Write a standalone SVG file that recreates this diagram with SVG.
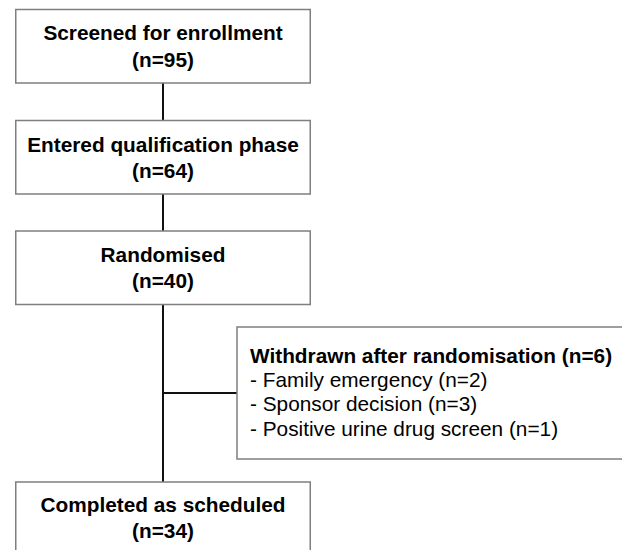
<svg xmlns="http://www.w3.org/2000/svg" width="622" height="550" viewBox="0 0 622 550">
<style>
.box{fill:#fff;stroke:#7f7f7f;stroke-width:1.5}
.c{stroke:#111;stroke-width:2;fill:none}
.t{font-family:"Liberation Sans",Arial,sans-serif;font-size:20.8px;fill:#000}
.b{font-weight:bold;text-anchor:middle}
.bl{font-weight:bold}
</style>
<rect width="622" height="550" fill="#fff"/>
<g id="connectors">
<line class="c" x1="163" y1="83" x2="163" y2="120"/>
<line class="c" x1="163" y1="194" x2="163" y2="231"/>
<line class="c" x1="163" y1="304" x2="163" y2="482"/>
<line class="c" x1="163" y1="393" x2="237" y2="393"/>
</g>
<g id="screened">
<rect class="box" x="15.75" y="9.5" width="294.5" height="73.5"/>
<text class="t b" x="163" y="40">Screened for enrollment</text>
<text class="t b" x="163" y="66.5">(n=95)</text>
</g>
<g id="qualification">
<rect class="box" x="15.75" y="120.5" width="294.5" height="73.5"/>
<text class="t b" x="163" y="151.5">Entered qualification phase</text>
<text class="t b" x="163" y="178">(n=64)</text>
</g>
<g id="randomised">
<rect class="box" x="15.75" y="231" width="294.5" height="73.5"/>
<text class="t b" x="163" y="261.5">Randomised</text>
<text class="t b" x="163" y="288">(n=40)</text>
</g>
<g id="withdrawn">
<rect class="box" x="237" y="327" width="420" height="132"/>
<text class="t bl" x="250" y="362.5">Withdrawn after randomisation (n=6)</text>
<text class="t" x="250" y="386.5">- Family emergency (n=2)</text>
<text class="t" x="250" y="411">- Sponsor decision (n=3)</text>
<text class="t" x="250" y="435.5">- Positive urine drug screen (n=1)</text>
</g>
<g id="completed">
<rect class="box" x="15.75" y="482" width="294.5" height="80"/>
<text class="t b" x="163" y="511.5">Completed as scheduled</text>
<text class="t b" x="163" y="538">(n=34)</text>
</g>
</svg>
